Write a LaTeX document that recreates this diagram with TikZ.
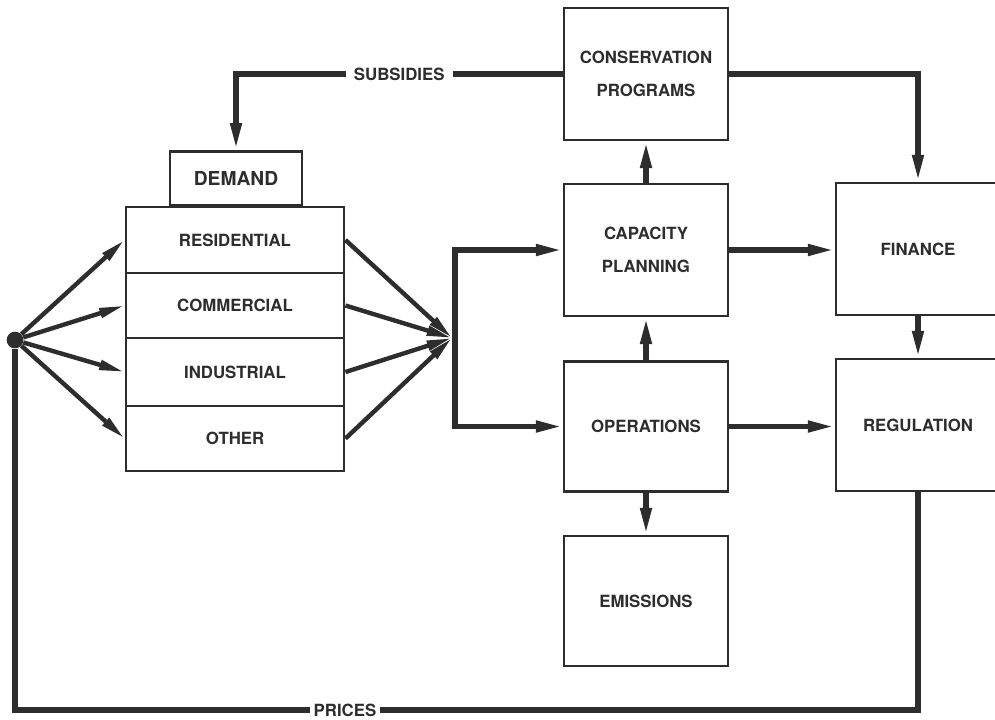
\documentclass[tikz,border=0pt]{standalone}
\usepackage{fontspec}
\setmainfont{TeX Gyre Heros}
\usetikzlibrary{arrows.meta}
\definecolor{ink}{RGB}{45,45,45}
\begin{document}
\begin{tikzpicture}[x=0.75pt,y=-0.75pt,
  lbl/.style={text=ink, font=\bfseries\fontsize{12.6}{24.5}\selectfont},
  box/.style={lbl, draw=ink, line width=2.2pt, fill=white, inner sep=0pt, align=center},
  tip/.style={-{Triangle[length=20pt,width=8pt]}},
  conn/.style={draw=ink, line width=4pt, tip},
  plain/.style={draw=ink, line width=4pt},
  fan/.style={draw=ink, line width=3.3pt, -{Triangle[length=19pt,width=7pt]}}
]
\clip (0,0) rectangle (995,719);
\fill[white] (0,0) rectangle (995,719);

% boxes
\node[box, minimum width=123pt, minimum height=99pt] (cons) at (646,74) {CONSERVATION\\PROGRAMS};
\node[box, minimum width=123pt, minimum height=99pt] (cap) at (646,250) {CAPACITY\\PLANNING};
\node[box, minimum width=123pt, minimum height=98pt] (ops) at (646,426.5) {OPERATIONS};
\node[box, minimum width=123pt, minimum height=97.5pt] (emis) at (646,601) {EMISSIONS};
\node[box, minimum width=123pt, minimum height=99pt] (fin) at (918,249) {FINANCE};
\node[box, minimum width=123pt, minimum height=99pt] (reg) at (918,425) {REGULATION};

\node[box, minimum width=99pt, minimum height=41pt, font=\bfseries\fontsize{14.4}{17}\selectfont] (dem) at (236,178.5) {DEMAND};
\node[box, minimum width=163.5pt, minimum height=49.5pt] (res) at (235,240) {RESIDENTIAL};
\node[box, minimum width=163.5pt, minimum height=48.75pt] (com) at (235,305.5) {COMMERCIAL};
\node[box, minimum width=163.5pt, minimum height=51pt] (ind) at (235,372) {INDUSTRIAL};
\node[box, minimum width=163.5pt, minimum height=48.75pt] (oth) at (235,438.5) {OTHER};

\node[circle, fill=ink, inner sep=0pt, minimum size=12.5pt] (dot) at (15,340) {};
\coordinate (J) at (452,338);
\coordinate (bar) at (455,338);
\coordinate (pl) at (15,710);

% fan in
\draw[fan] (dot) -- (res.west);
\draw[fan] (dot) -- (com.west);
\draw[fan] (dot) -- (ind.west);
\draw[fan] (dot) -- (oth.west);
% fan out
\draw[fan] (res.east) -- (J);
\draw[fan] (com.east) -- (J);
\draw[fan] (ind.east) -- (J);
\draw[fan] (oth.east) -- (J);

% bar to capacity and operations
\draw[conn, {Triangle[length=20pt,width=8pt]}-{Triangle[length=20pt,width=8pt]}]
  (cap.west) -- (cap.west -| bar) -- (ops.west -| bar) -- (ops.west);

% vertical links
\draw[conn] (cap.north) -- (cons.south);
\draw[conn] (ops.north) -- (cap.south);
\draw[conn] (ops.south) -- (emis.north);
\draw[conn] (fin.south) -- (reg.north);

% horizontal links
\draw[conn] (cap.east) -- (fin.west |- cap.east);
\draw[conn] (ops.east) -- (reg.west |- ops.east);

% conservation to finance
\draw[conn] (cons.east) -| (fin.north);

% subsidies
\draw[conn] (cons.west) -| node[pos=0.25, lbl, fill=white, inner xsep=6pt] (subs) {SUBSIDIES} (dem.north);

% prices
\draw[plain] (reg.south) |- (pl) -- (dot);
\node[lbl, fill=white, inner xsep=3pt] (prices) at (345,710) {PRICES};
\end{tikzpicture}
\end{document}
